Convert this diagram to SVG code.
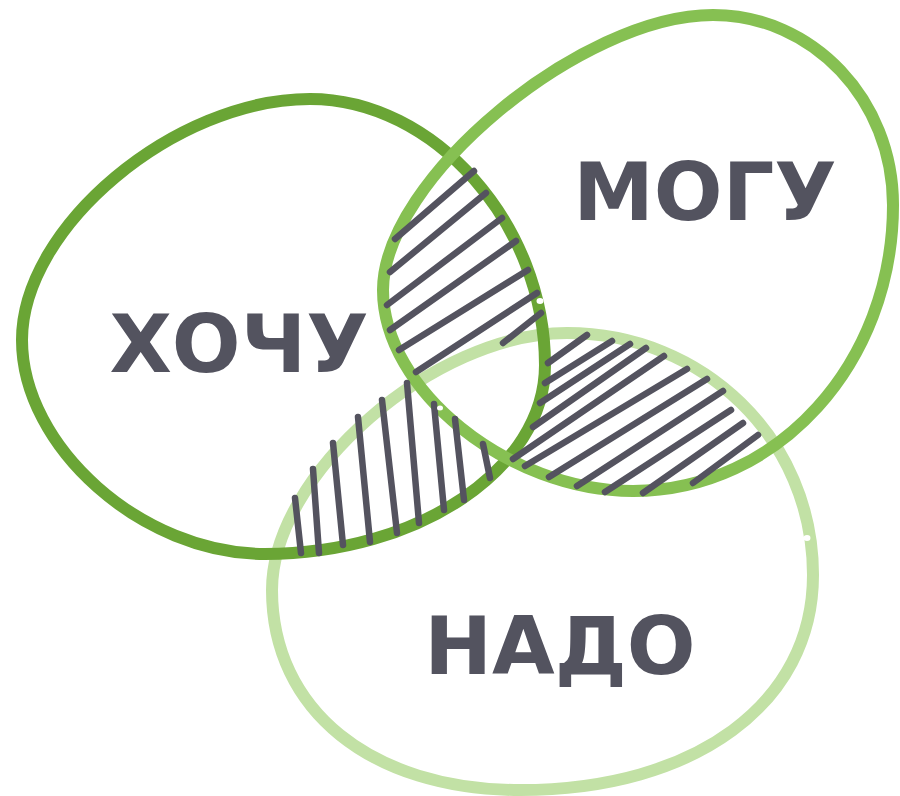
<svg xmlns="http://www.w3.org/2000/svg" width="900" height="796" viewBox="0 0 900 796">
<style>
.ring{fill:none;stroke-width:12;stroke-linejoin:round}
.hatch{fill:none;stroke:#54535f;stroke-width:6.5;stroke-linecap:round}
.lbl{font-family:"DejaVu Sans","Liberation Sans",sans-serif;font-weight:bold;font-size:81px;fill:#53535f;text-anchor:middle}
.dot{fill:#ffffff}
</style>
<rect width="900" height="796" fill="#ffffff"/>
<g id="nado">
<path class="ring" stroke="#c2e1a5" d="M567,333 C703,333 813,439 813,575 C813,703 696,790 520,790 C371,790 272,710 272,590 C272,474 434,333 567,333 Z"/>
<text class="lbl" x="560" y="674">НАДО</text>
</g>
<g id="hochu">
<path class="ring" stroke="#6aa535" d="M310,99 C434,99 545,224 545,365 C545,469 418,554 265,554 C142,554 22,447 22,340 C22,227 175,99 310,99 Z"/>
<text class="lbl" x="239" y="372">ХОЧУ</text>
</g>
<g id="mogu">
<path class="ring" stroke="#86c052" d="M713,15 C813,15 893,100 893,205 C893,363 778,491 633,491 C508,491 383,390 383,290 C383,180 581,15 713,15 Z"/>
<text class="lbl" x="705" y="220">МОГУ</text>
</g>
<g id="connectors">
<g id="hatch-hochu-mogu">
<line class="hatch" x1="395" y1="239" x2="474" y2="171"/>
<line class="hatch" x1="390" y1="272" x2="486" y2="193"/>
<line class="hatch" x1="387" y1="305" x2="502" y2="218"/>
<line class="hatch" x1="390" y1="330" x2="516" y2="241"/>
<line class="hatch" x1="399" y1="350" x2="528" y2="270"/>
<line class="hatch" x1="416" y1="372" x2="537" y2="293"/>
<line class="hatch" x1="503" y1="343" x2="541" y2="313"/>
</g>
<g id="hatch-mogu-nado">
<line class="hatch" x1="548" y1="363" x2="587" y2="335"/>
<line class="hatch" x1="545" y1="383" x2="612" y2="341"/>
<line class="hatch" x1="540" y1="403" x2="630" y2="344"/>
<line class="hatch" x1="533" y1="427" x2="646" y2="348"/>
<line class="hatch" x1="513" y1="459" x2="664" y2="356"/>
<line class="hatch" x1="525" y1="466" x2="687" y2="369"/>
<line class="hatch" x1="549" y1="477" x2="707" y2="379"/>
<line class="hatch" x1="577" y1="486" x2="723" y2="391"/>
<line class="hatch" x1="605" y1="492" x2="731" y2="410"/>
<line class="hatch" x1="643" y1="493" x2="743" y2="423"/>
<line class="hatch" x1="693" y1="483" x2="758" y2="435"/>
</g>
<g id="hatch-hochu-nado">
<line class="hatch" x1="295" y1="498" x2="301" y2="553"/>
<line class="hatch" x1="313" y1="469" x2="319" y2="553"/>
<line class="hatch" x1="333" y1="443" x2="343" y2="545"/>
<line class="hatch" x1="358" y1="417" x2="370" y2="542"/>
<line class="hatch" x1="382" y1="400" x2="397" y2="533"/>
<line class="hatch" x1="407" y1="383" x2="419" y2="523"/>
<line class="hatch" x1="434" y1="404" x2="444" y2="510"/>
<line class="hatch" x1="455" y1="419" x2="464" y2="500"/>
<line class="hatch" x1="483" y1="444" x2="490" y2="478"/>
</g>
</g>
<ellipse class="dot" cx="540" cy="301" rx="3.5" ry="3"/>
<ellipse class="dot" cx="807" cy="538" rx="3.5" ry="3"/>
<ellipse class="dot" cx="440" cy="408" rx="3" ry="2.5"/>
</svg>
